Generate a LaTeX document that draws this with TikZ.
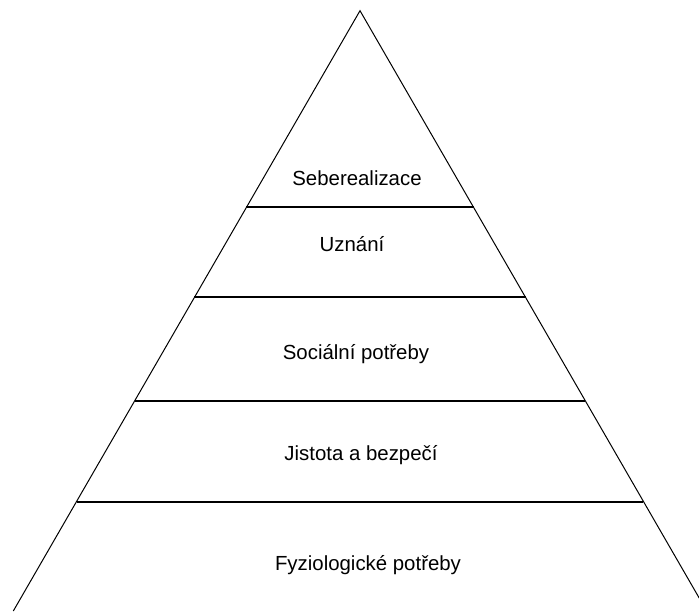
\documentclass[tikz,border=0pt]{standalone}
\usepackage{fontspec}
\setmainfont{Liberation Sans}
\usetikzlibrary{calc}

\tikzset{
	side/.style={color=black, line width=0.5pt},
	tier/.style={color=black, line width=1pt},
	level/.style={anchor=base, inner sep=0pt, font=\fontsize{10.2}{12}\selectfont}
}

\begin{document}
\begin{tikzpicture}[x=0.5pt, y=-0.5pt]
	\useasboundingbox (0, 0) rectangle (699, 611);
	\clip (0, 0) rectangle (699, 611);
	\coordinate (apex) at (360, 10.7);
	\coordinate (bl) at (13.3, 611);
	\coordinate (br) at (706.7, 611);
	\draw[side] (bl) -- (apex) -- (br);
	% tiers of the pyramid
	\foreach \y [count=\i] in {207.3, 297.3, 400.7, 501.5} {
		\coordinate (l\i) at ($(apex)!{(\y-10.7)/600.3}!(bl)$);
		\coordinate (r\i) at ($(apex)!{(\y-10.7)/600.3}!(br)$);
		\draw[tier] (l\i) -- (r\i);
	}
	\node[level] (self) at (357, 185) {Seberealizace};
	\node[level] (esteem) at (352, 251) {Uznání};
	\node[level] (social) at (356, 359) {Sociální potřeby};
	\node[level] (safety) at (361, 460) {Jistota a bezpečí};
	\node[level] (body) at (368, 570) {Fyziologické potřeby};
\end{tikzpicture}
\end{document}
